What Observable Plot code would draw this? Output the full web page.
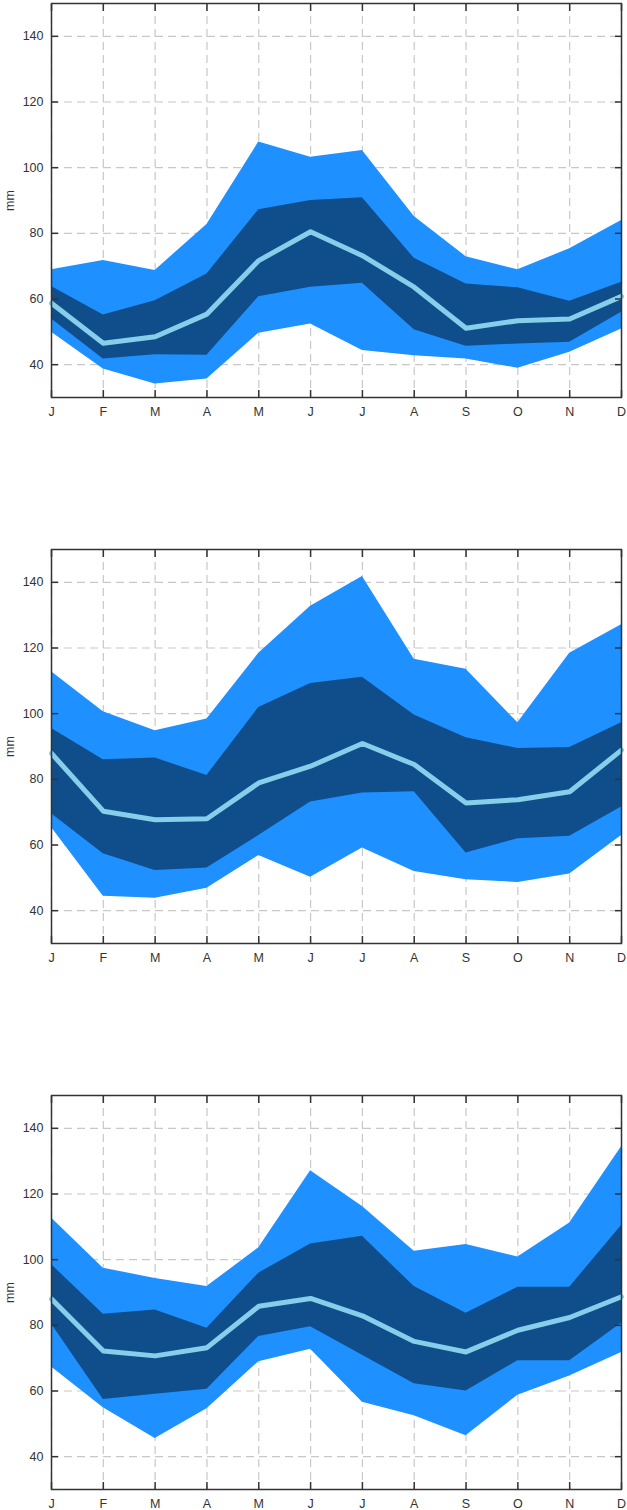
<!DOCTYPE html>
<html><head><meta charset="utf-8">
<script src="https://cdn.jsdelivr.net/npm/d3@7"></script>
<script src="https://cdn.jsdelivr.net/npm/@observablehq/plot@0.6"></script>
<style>
body{margin:0;background:#fff;}
#charts svg{display:block;}
</style></head><body><div id="charts"></div>
<script>
const months = ["J","F","M","A","M","J","J","A","S","O","N","D"];
const yTicks = [40, 60, 80, 100, 120, 140];

// Panel 1
const p1_hi2 = [68.9, 71.7, 68.7, 82.7, 107.8, 103.2, 105.2, 85.1, 72.9, 68.9, 75.3, 83.9];
const p1_hi1 = [63.8, 55.1, 59.5, 67.6, 87.2, 90.0, 90.8, 72.4, 64.6, 63.4, 59.3, 65.1];
const p1_mid = [58.7, 46.5, 48.5, 55.4, 71.7, 80.5, 73.2, 63.6, 51.1, 53.4, 53.9, 60.8];
const p1_lo1 = [53.9, 41.7, 43.0, 42.9, 60.7, 63.6, 64.8, 50.6, 45.6, 46.3, 46.8, 56.0];
const p1_lo2 = [49.9, 38.7, 34.1, 35.6, 49.6, 52.4, 44.3, 42.7, 41.7, 38.9, 43.8, 50.9];

// Panel 2
const p2_hi2 = [112.8, 100.6, 94.8, 98.4, 118.4, 132.7, 141.8, 116.6, 113.5, 97.2, 118.4, 127.1];
const p2_hi1 = [95.5, 86.0, 86.5, 81.2, 101.9, 109.2, 111.1, 99.6, 92.7, 89.4, 89.7, 97.2];
const p2_mid = [87.9, 70.3, 67.7, 68.0, 78.9, 84.0, 90.9, 84.5, 72.8, 73.8, 76.2, 88.9];
const p2_lo1 = [69.5, 57.3, 52.2, 53.0, 62.9, 73.1, 75.8, 76.2, 57.6, 61.9, 62.7, 71.6];
const p2_lo2 = [65.3, 44.4, 43.8, 46.8, 56.8, 50.2, 59.1, 51.9, 49.4, 48.6, 51.2, 62.9];

// Panel 3
const p3_hi2 = [112.7, 97.4, 94.3, 91.8, 103.6, 127.1, 116.2, 102.6, 104.6, 100.8, 111.2, 134.4];
const p3_hi1 = [98.5, 83.4, 84.7, 79.1, 95.9, 104.8, 107.1, 91.8, 83.7, 91.6, 91.6, 110.4];
const p3_mid = [88.0, 72.2, 70.7, 73.2, 85.8, 88.2, 82.9, 75.1, 71.9, 78.5, 82.4, 88.7];
const p3_lo1 = [80.4, 57.4, 59.0, 60.5, 76.6, 79.6, 70.9, 62.2, 60.0, 69.2, 69.2, 80.6];
const p3_lo2 = [67.3, 54.9, 45.5, 54.6, 68.9, 72.7, 56.6, 52.5, 46.4, 58.7, 64.6, 71.7];

const panels = [
  {hi2: p1_hi2, hi1: p1_hi1, mid: p1_mid, lo1: p1_lo1, lo2: p1_lo2, height: 546},
  {hi2: p2_hi2, hi1: p2_hi1, mid: p2_mid, lo1: p2_lo1, lo2: p2_lo2, height: 546},
  {hi2: p3_hi2, hi1: p3_hi1, mid: p3_mid, lo1: p3_lo1, lo2: p3_lo2, height: 418}
];

const monthIdx = months.map((_, i) => i);
const gridStyle = {stroke: "#c8c8c8", strokeOpacity: 1, strokeWidth: 1.2, strokeDasharray: "8,5"};
const container = document.getElementById("charts");

for (const p of panels) {
  const rows = months.map((m, i) => ({i, hi2: p.hi2[i], hi1: p.hi1[i], mid: p.mid[i], lo1: p.lo1[i], lo2: p.lo2[i]}));
  const chart = Plot.plot({
    width: 627,
    height: p.height,
    marginLeft: 51,
    marginRight: 6,
    marginTop: 3,
    marginBottom: p.height - 397,
    style: {fontFamily: "'Liberation Sans', Arial, sans-serif", fontSize: "12.5px", color: "#333", background: "#fff"},
    x: {domain: [0, 11]},
    y: {domain: [30, 150]},
    marks: [
      Plot.gridX(monthIdx, gridStyle),
      Plot.gridY(yTicks, gridStyle),
      Plot.areaY(rows, {x: "i", y1: "lo2", y2: "hi2", fill: "#1e90ff"}),
      Plot.areaY(rows, {x: "i", y1: "lo1", y2: "hi1", fill: "#104e8b"}),
      Plot.lineY(rows, {x: "i", y: "mid", stroke: "#87ceeb", strokeWidth: 5}),
      Plot.frame({stroke: "#333", strokeWidth: 1.5}),
      Plot.axisX(monthIdx, {anchor: "bottom", tickSize: 0, tickPadding: 10, tickFormat: i => months[i], label: null}),
      Plot.axisX(monthIdx, {anchor: "bottom", tickSize: 7, dy: -7, stroke: "#333", strokeWidth: 1.5, tickFormat: () => "", label: null}),
      Plot.axisX(monthIdx, {anchor: "top", tickSize: 7, dy: 7, stroke: "#333", strokeWidth: 1.5, tickFormat: () => "", label: null}),
      Plot.axisY(yTicks, {anchor: "left", tickSize: 0, tickPadding: 8, label: "mm", labelAnchor: "center", labelOffset: 46, labelArrow: "none"}),
      Plot.axisY(yTicks, {anchor: "left", tickSize: 7, dx: 7, stroke: "#333", strokeWidth: 1.5, tickFormat: () => "", label: null}),
      Plot.axisY(yTicks, {anchor: "right", tickSize: 7, dx: -7, stroke: "#333", strokeWidth: 1.5, tickFormat: () => "", label: null})
    ]
  });
  container.appendChild(chart);
}
</script></body></html>
